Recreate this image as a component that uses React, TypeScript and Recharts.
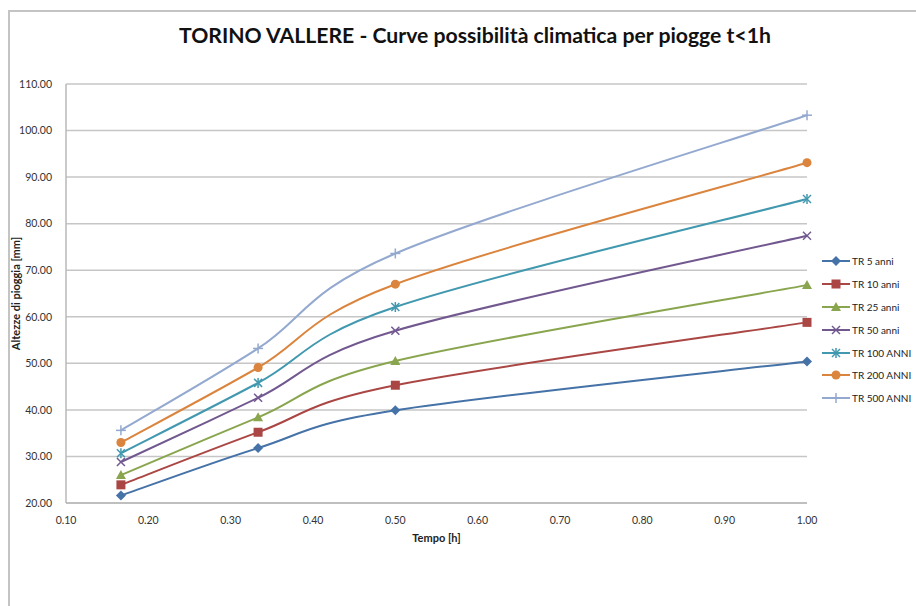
import React from 'react';
import { LineChart, Line, XAxis, YAxis, CartesianGrid } from 'recharts';

const durations = [0.1667, 0.3333, 0.5, 1.0];
const tr5 = [21.6, 31.8, 39.9, 50.4];
const tr10 = [23.9, 35.2, 45.3, 58.8];
const tr25 = [26.0, 38.4, 50.5, 66.8];
const tr50 = [28.8, 42.6, 57.0, 77.4];
const tr100 = [30.7, 45.8, 62.1, 85.3];
const tr200 = [33.0, 49.1, 67.0, 93.1];
const tr500 = [35.6, 53.2, 73.6, 103.3];

const xTicks = [0.1, 0.2, 0.3, 0.4, 0.5, 0.6, 0.7, 0.8, 0.9, 1.0];
const yTicks = [20, 30, 40, 50, 60, 70, 80, 90, 100, 110];

type Shape = 'diamond' | 'square' | 'triangle' | 'cross' | 'star' | 'circle' | 'plus';

const series: { key: string; name: string; color: string; shape: Shape; values: number[] }[] = [
  { key: 'tr5', name: 'TR 5 anni', color: '#4572A7', shape: 'diamond', values: tr5 },
  { key: 'tr10', name: 'TR 10 anni', color: '#AA4643', shape: 'square', values: tr10 },
  { key: 'tr25', name: 'TR 25 anni', color: '#89A54E', shape: 'triangle', values: tr25 },
  { key: 'tr50', name: 'TR 50 anni', color: '#71588F', shape: 'cross', values: tr50 },
  { key: 'tr100', name: 'TR 100 ANNI', color: '#4198AF', shape: 'star', values: tr100 },
  { key: 'tr200', name: 'TR 200 ANNI', color: '#DB843D', shape: 'circle', values: tr200 },
  { key: 'tr500', name: 'TR 500 ANNI', color: '#93A9CF', shape: 'plus', values: tr500 },
];

const data = durations.map((t, i) => {
  const row: Record<string, number> = { t };
  series.forEach((s) => {
    row[s.key] = s.values[i];
  });
  return row;
});

const FONT = 'Lato, "Open Sans", sans-serif';

// Excel-style smoothing: Catmull-Rom through the points, in screen space
function excelSmooth(context: any) {
  let pts: [number, number][] = [];
  return {
    areaStart() {},
    areaEnd() {},
    lineStart() {
      pts = [];
    },
    point(x: number, y: number) {
      pts.push([+x, +y]);
    },
    lineEnd() {
      if (!pts.length) return;
      context.moveTo(pts[0][0], pts[0][1]);
      for (let i = 0; i < pts.length - 1; i++) {
        const p0 = pts[i - 1] || pts[i];
        const p1 = pts[i];
        const p2 = pts[i + 1];
        const p3 = pts[i + 2] || pts[i + 1];
        context.bezierCurveTo(
          p1[0] + (p2[0] - p0[0]) / 6,
          p1[1] + (p2[1] - p0[1]) / 6,
          p2[0] - (p3[0] - p1[0]) / 6,
          p2[1] - (p3[1] - p1[1]) / 6,
          p2[0],
          p2[1]
        );
      }
    },
  };
}

function Marker({ shape, color, cx, cy }: { shape: Shape; color: string; cx: number; cy: number }) {
  switch (shape) {
    case 'diamond':
      return <polygon points={`${cx},${cy - 5} ${cx + 5},${cy} ${cx},${cy + 5} ${cx - 5},${cy}`} fill={color} />;
    case 'square':
      return <rect x={cx - 4.5} y={cy - 4.5} width={9} height={9} fill={color} />;
    case 'triangle':
      return <polygon points={`${cx},${cy - 5} ${cx + 5},${cy + 4} ${cx - 5},${cy + 4}`} fill={color} />;
    case 'cross':
      return (
        <g stroke={color} strokeWidth={1.5}>
          <line x1={cx - 4} y1={cy - 4} x2={cx + 4} y2={cy + 4} />
          <line x1={cx - 4} y1={cy + 4} x2={cx + 4} y2={cy - 4} />
        </g>
      );
    case 'star':
      return (
        <g stroke={color} strokeWidth={1.5}>
          <line x1={cx - 4} y1={cy - 4} x2={cx + 4} y2={cy + 4} />
          <line x1={cx - 4} y1={cy + 4} x2={cx + 4} y2={cy - 4} />
          <line x1={cx} y1={cy - 5} x2={cx} y2={cy + 5} />
        </g>
      );
    case 'circle':
      return <circle cx={cx} cy={cy} r={4.5} fill={color} />;
    case 'plus':
    default:
      return (
        <g stroke={color} strokeWidth={1.5}>
          <line x1={cx - 5} y1={cy} x2={cx + 5} y2={cy} />
          <line x1={cx} y1={cy - 5} x2={cx} y2={cy + 5} />
        </g>
      );
  }
}

export default function App() {
  return (
    <div style={{ position: 'relative', width: 916, height: 606, overflow: 'hidden', background: '#fff', fontFamily: FONT }}>
      <style>{'body{margin:0;overflow:hidden}'}</style>
      {/* outer frame */}
      <div
        style={{
          position: 'absolute',
          left: 8,
          top: 10,
          width: 1000,
          height: 700,
          border: '2px solid #c4c4c4',
          boxSizing: 'border-box',
        }}
      />
      <div
        style={{
          position: 'absolute',
          top: 22,
          left: 0,
          width: 950,
          textAlign: 'center',
          fontSize: 21.2,
          fontWeight: 700,
          color: '#111',
        }}
      >
        TORINO VALLERE - Curve possibilità climatica per piogge t&lt;1h
      </div>

      <div style={{ position: 'absolute', left: 0, top: 0 }}>
        <LineChart width={916} height={606} data={data} margin={{ top: 84, right: 109, left: 10, bottom: 73 }}>
          <CartesianGrid horizontal vertical={false} stroke="#c6c6c6" strokeWidth={1.5} />
          <XAxis
            dataKey="t"
            type="number"
            domain={[0.1, 1.0]}
            ticks={xTicks}
            tickFormatter={(v) => Number(v).toFixed(2)}
            tickLine={false}
            axisLine={{ stroke: '#b8b8b8', strokeWidth: 1.5 }}
            tick={{ fontSize: 10.5, fill: '#333', fontFamily: FONT }}
            tickMargin={8}
            height={30}
            label={{ value: 'Tempo [h]', position: 'insideBottom', offset: -9, style: { fontSize: 11, fontWeight: 700, fill: '#222', fontFamily: FONT } }}
          />
          <YAxis
            type="number"
            domain={[20, 110]}
            ticks={yTicks}
            tickFormatter={(v) => Number(v).toFixed(2)}
            tickLine={false}
            axisLine={{ stroke: '#b8b8b8', strokeWidth: 1.5 }}
            tick={{ fontSize: 10.5, fill: '#333', fontFamily: FONT }}
            tickMargin={8}
            width={56}
            label={{
              value: 'Altezze di pioggia [mm]',
              angle: -90,
              position: 'insideLeft',
              offset: 0,
              dx: 6,
              style: { fontSize: 11, fontWeight: 700, fill: '#222', fontFamily: FONT, textAnchor: 'middle' },
            }}
          />
          {series.map((s) => (
            <Line
              key={s.key}
              dataKey={s.key}
              name={s.name}
              type={excelSmooth as any}
              stroke={s.color}
              strokeWidth={2}
              isAnimationActive={false}
              dot={(p: any) => <Marker key={`${s.key}-${p.index}`} shape={s.shape} color={s.color} cx={p.cx} cy={p.cy} />}
              activeDot={false}
            />
          ))}
        </LineChart>
      </div>

      {/* legend */}
      <div style={{ position: 'absolute', left: 822, top: 250 }}>
        {series.map((s) => (
          <div key={s.key} style={{ display: 'flex', alignItems: 'center', height: 22.8 }}>
            <svg width={28} height={12}>
              <line x1={0} y1={6} x2={28} y2={6} stroke={s.color} strokeWidth={2} />
              <Marker shape={s.shape} color={s.color} cx={14} cy={6} />
            </svg>
            <span style={{ fontSize: 10, color: '#222', marginLeft: 2, whiteSpace: 'nowrap' }}>{s.name}</span>
          </div>
        ))}
      </div>
    </div>
  );
}
